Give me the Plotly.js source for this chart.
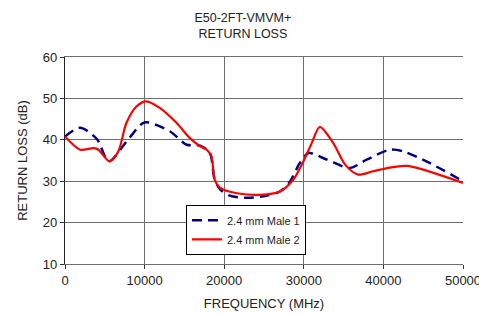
<!DOCTYPE html>
<html>
<head>
<meta charset="utf-8">
<script src="https://cdn.plot.ly/plotly-3.0.1.min.js"></script>
<style>html,body{margin:0;padding:0;background:#fff}#chart{width:479px;height:316px}</style>
</head>
<body>
<div id="chart"></div>
<script>
const seriesNames = ["2.4 mm Male 1", "2.4 mm Male 2"];

const freq1 = [0, 1900, 4000, 5500, 7900, 10000, 13200, 15300, 17000, 18200, 18800, 19500, 20700, 22800, 25300, 27000, 28300, 29500, 30600, 32900, 35800, 37900, 40800, 42500, 45800, 50000];
const rl1 = [40.8, 42.9, 40.2, 34.8, 40.0, 44.2, 42.0, 38.8, 38.6, 36.8, 30.4, 28.0, 26.5, 26.0, 26.5, 27.5, 30.0, 34.4, 36.8, 35.2, 33.2, 35.2, 37.6, 37.2, 34.4, 30.0];

const freq2 = [0, 1900, 3600, 4200, 5600, 6700, 7700, 9000, 10200, 11900, 14000, 15700, 17000, 17800, 18400, 18800, 19500, 21600, 24500, 27000, 28700, 29900, 31000, 32000, 33700, 35200, 36800, 38700, 40800, 42900, 45000, 50000];
const rl2 = [40.8, 37.6, 38.0, 37.6, 34.8, 37.2, 44.0, 48.1, 49.3, 47.7, 44.1, 40.4, 38.4, 37.6, 36.0, 30.4, 28.4, 27.1, 26.7, 27.5, 30.4, 34.6, 39.2, 43.1, 39.2, 34.0, 31.6, 32.4, 33.3, 33.7, 32.8, 29.6];

const xTicks = [0, 10000, 20000, 30000, 40000, 50000];
const yTicks = [10, 20, 30, 40, 50, 60];

const traces = [
  {x: freq1, y: rl1, name: seriesNames[0], mode: 'lines',
   line: {color: '#000080', width: 2.5, dash: '10px,6px', shape: 'spline', smoothing: 0.8}},
  {x: freq2, y: rl2, name: seriesNames[1], mode: 'lines',
   line: {color: '#ff0000', width: 2.2, shape: 'spline', smoothing: 0.8}}
];

const font = {family: 'Liberation Sans, Arial, sans-serif', color: '#222'};

const layout = {
  width: 479, height: 316,
  margin: {l: 65, r: 16, t: 57, b: 52},
  paper_bgcolor: '#fff', plot_bgcolor: '#fff',
  font: Object.assign({size: 13}, font),
  title: {text: 'E50-2FT-VMVM+<br>RETURN LOSS', font: Object.assign({size: 12.5}, font),
          x: 0.507, xref: 'container', xanchor: 'center', yref: 'container', y: 0.93, yanchor: 'middle'},
  showlegend: true,
  legend: {x: 0.304, y: 0.286, xanchor: 'left', yanchor: 'top',
           bordercolor: '#000', borderwidth: 1, bgcolor: '#fff',
           font: Object.assign({size: 11}, font), tracegroupgap: 0},
  xaxis: {range: [0, 50000], tickvals: xTicks, ticktext: xTicks.map(String),
          showgrid: true, gridcolor: '#6e6e6e', gridwidth: 1,
          showline: true, linecolor: '#6e6e6e', linewidth: 1, mirror: true,
          ticks: 'outside', ticklen: 4, tickcolor: '#333', zeroline: false,
          ticklabeloverflow: 'allow',
          tickfont: Object.assign({size: 13}, font),
          title: {text: 'FREQUENCY (MHz)', font: Object.assign({size: 13}, font), standoff: 12}},
  yaxis: {range: [10, 60], tickvals: yTicks, ticktext: yTicks.map(String),
          showgrid: true, gridcolor: '#6e6e6e', gridwidth: 1,
          showline: true, linecolor: '#222', linewidth: 1.2, mirror: false,
          ticks: 'outside', ticklen: 4, tickcolor: '#333', zeroline: false,
          tickfont: Object.assign({size: 13}, font),
          title: {text: 'RETURN LOSS (dB)', font: Object.assign({size: 13}, font), standoff: 12}}
};

Plotly.newPlot('chart', traces, layout, {displayModeBar: false, staticPlot: true});
</script>
</body>
</html>
